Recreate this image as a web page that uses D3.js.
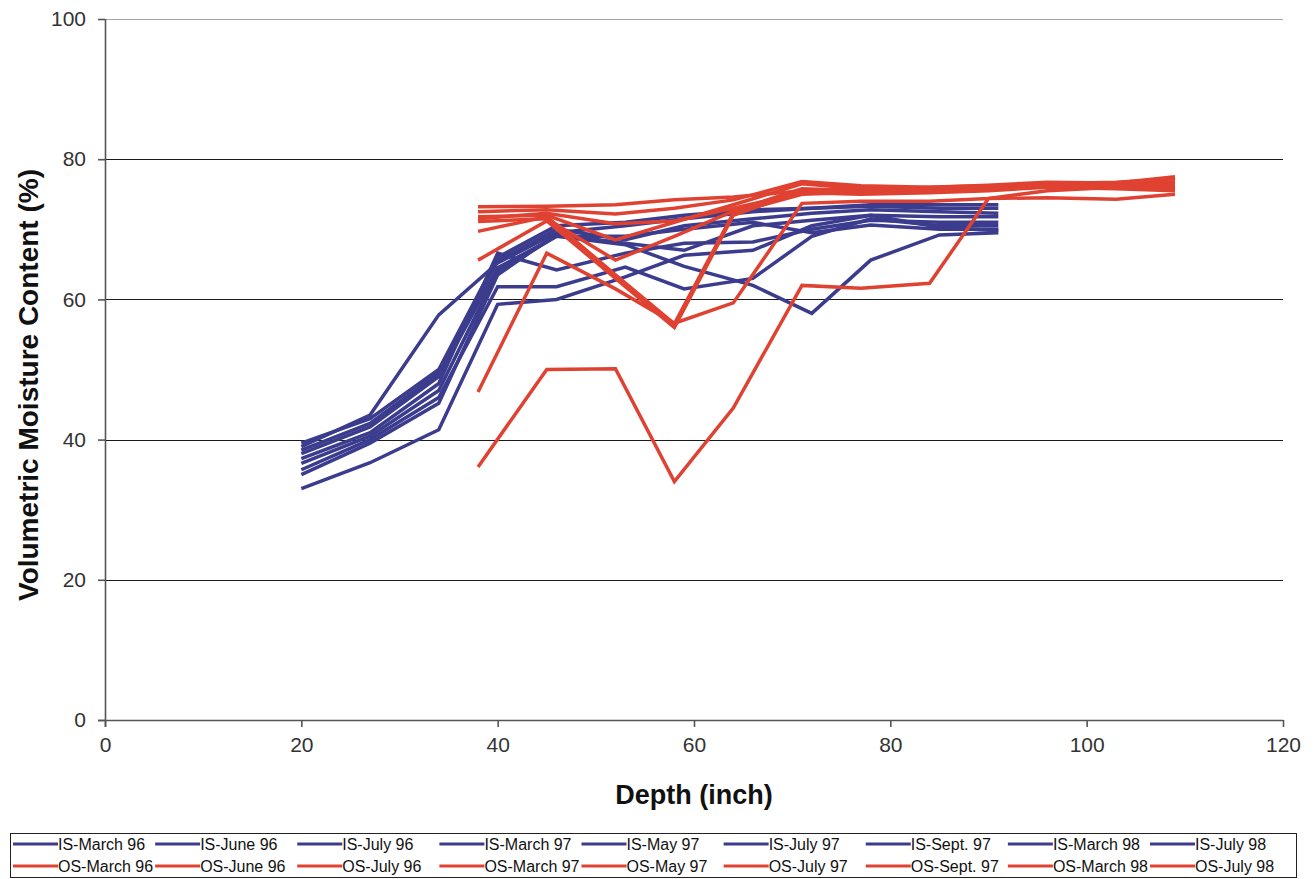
<!DOCTYPE html>
<html>
<head>
<meta charset="utf-8">
<script src="https://cdn.jsdelivr.net/npm/d3@7"></script>
<style>
  html, body { margin: 0; padding: 0; background: #fff; }
  svg { display: block; font-family: "Liberation Sans", Arial, sans-serif; }
</style>
</head>
<body>
<svg id="chart" width="1313" height="879"></svg>
<script>
// ---------------- DATA ----------------
const isDepth = [20, 27, 34, 40, 46, 53, 59, 66, 72, 78, 85, 91];
const osDepth = [38, 45, 52, 58, 64, 71, 77, 84, 90, 96, 103, 109];

const isLabels = ["IS-March 96", "IS-June 96", "IS-July 96", "IS-March 97", "IS-May 97",
                  "IS-July 97", "IS-Sept. 97", "IS-March 98", "IS-July 98"];
const osLabels = ["OS-March 96", "OS-June 96", "OS-July 96", "OS-March 97", "OS-May 97",
                  "OS-July 97", "OS-Sept. 97", "OS-March 98", "OS-July 98"];

const isMarch96 = [39.0, 43.5, 57.8, 65.2, 69.5, 70.5, 71.5, 72.5, 73.0, 73.5, 73.5, 73.5];
const isJune96  = [39.5, 43.0, 50.0, 66.0, 70.5, 71.0, 72.0, 72.8, 73.0, 73.3, 73.0, 73.0];
const isJuly96  = [38.5, 42.3, 49.5, 65.5, 70.0, 68.5, 70.5, 71.5, 72.3, 72.8, 72.5, 72.3];
const isMarch97 = [38.0, 41.8, 49.0, 64.5, 69.0, 67.8, 64.7, 62.0, 58.0, 65.6, 69.2, 69.5];
const isMay97   = [37.3, 41.0, 48.0, 66.6, 64.2, 66.6, 68.0, 68.2, 70.0, 71.3, 71.0, 71.0];
const isJuly97  = [36.6, 40.5, 47.0, 64.0, 69.0, 69.0, 70.0, 71.0, 69.5, 70.6, 70.0, 70.0];
const isSept97  = [35.7, 40.0, 46.0, 61.8, 61.8, 64.6, 61.5, 63.0, 69.0, 71.5, 70.5, 70.5];
const isMarch98 = [35.0, 39.5, 45.2, 63.5, 69.3, 68.0, 67.0, 70.5, 71.3, 72.0, 71.8, 71.8];
const isJuly98  = [33.0, 36.7, 41.4, 59.3, 60.0, 63.2, 66.3, 67.0, 70.5, 72.0, 70.3, 69.8];

const osMarch96 = [73.2, 73.3, 73.5, 74.2, 74.6, 75.5, 75.8, 76.0, 76.3, 76.7, 76.6, 77.5];
const osJune96  = [72.5, 72.8, 72.2, 73.0, 74.2, 76.8, 76.2, 76.0, 76.2, 76.5, 76.7, 77.2];
const osJuly96  = [71.8, 72.0, 68.5, 71.0, 73.5, 76.5, 75.8, 75.8, 76.0, 76.6, 76.4, 76.8];
const osMarch97 = [71.1, 71.5, 65.6, 69.0, 72.6, 75.8, 75.5, 75.6, 76.0, 76.3, 76.2, 76.2];
const osMay97   = [69.7, 71.8, 63.5, 56.5, 72.3, 75.0, 75.3, 75.5, 75.8, 76.2, 76.0, 75.8];
const osJuly97  = [65.6, 71.2, 63.0, 56.0, 72.0, 75.5, 75.5, 75.7, 76.0, 76.4, 76.2, 76.4];
const osSept97  = [46.8, 66.6, 61.5, 56.6, 59.5, 73.7, 74.0, 74.0, 74.4, 75.5, 76.0, 76.0];
const osMarch98 = [36.1, 50.0, 50.1, 34.0, 44.5, 62.0, 61.6, 62.3, 74.4, 74.5, 74.3, 75.0];
const osJuly98  = [71.5, 72.3, 70.8, 71.2, 73.0, 75.2, 75.0, 75.2, 75.5, 76.0, 75.8, 75.5];

const xTicks = [0, 20, 40, 60, 80, 100, 120];
const yTicks = [0, 20, 40, 60, 80, 100];

const xTitle = "Depth (inch)";
const yTitle = "Volumetric Moisture Content (%)";

// ---------------- BUILD ----------------
(function () {
const isValues = [isMarch96, isJune96, isJuly96, isMarch97, isMay97, isJuly97, isSept97, isMarch98, isJuly98];
const osValues = [osMarch96, osJune96, osJuly96, osMarch97, osMay97, osJuly97, osSept97, osMarch98, osJuly98];

const BLUE = "#3c3c8e";
const RED = "#e04232";

const isSeries = isLabels.map((name, i) => ({ name, color: BLUE,
  points: isDepth.map((d, j) => ({ x: d, y: isValues[i][j] })) }));
const osSeries = osLabels.map((name, i) => ({ name, color: RED,
  points: osDepth.map((d, j) => ({ x: d, y: osValues[i][j] })) }));

const svg = d3.select("#chart");
const pL = 105, pR = 1283, pT = 19, pB = 720;

const x = d3.scaleLinear().domain([0, 120]).range([pL, pR]);
const y = d3.scaleLinear().domain([0, 100]).range([pB, pT]);

// gridlines
svg.append("g")
  .selectAll("line")
  .data(yTicks.filter(t => t > 0))
  .join("line")
  .attr("x1", pL).attr("x2", pR)
  .attr("y1", d => Math.round(y(d)) + 0.5).attr("y2", d => Math.round(y(d)) + 0.5)
  .attr("stroke", d => d === 100 ? "#a6a6a6" : "#1a1a1a")
  .attr("stroke-width", 1.2);

// axes
const xAxis = d3.axisBottom(x).tickValues(xTicks).tickSize(7).tickPadding(10).tickFormat(d3.format("d"));
const yAxis = d3.axisLeft(y).tickValues(yTicks).tickSize(7).tickPadding(12).tickFormat(d3.format("d"));

const gx = svg.append("g").attr("transform", `translate(0,${pB})`).call(xAxis);
const gy = svg.append("g").attr("transform", `translate(${pL},0)`).call(yAxis);

[gx, gy].forEach(g => {
  g.select(".domain").attr("stroke", "#555").attr("stroke-width", 1.6);
  g.selectAll(".tick line").attr("stroke", "#555").attr("stroke-width", 1.6);
  g.selectAll(".tick text")
    .attr("fill", "#333")
    .style("font-size", "21px")
    .style("font-family", "'Liberation Sans', Arial, sans-serif");
});
gx.select(".domain").attr("d", `M${pL - 7},0.5H${pR}`);
gy.select(".domain").attr("d", `M0.5,${pT}V${pB + 7}`);

// series lines
const line = d3.line().x(d => x(d.x)).y(d => y(d.y));
const allSeries = isSeries.concat(osSeries);
svg.append("g")
  .selectAll("path")
  .data(allSeries)
  .join("path")
  .attr("d", d => line(d.points))
  .attr("fill", "none")
  .attr("stroke", d => d.color)
  .attr("stroke-width", 3.5)
  .attr("stroke-linejoin", "miter");

// axis titles
svg.append("text")
  .attr("x", (pL + pR) / 2)
  .attr("y", 804)
  .attr("text-anchor", "middle")
  .style("font-size", "27px")
  .style("font-weight", "bold")
  .attr("fill", "#111")
  .text(xTitle);

svg.append("text")
  .attr("transform", "translate(38,385) rotate(-90)")
  .attr("text-anchor", "middle")
  .style("font-size", "28px")
  .style("font-weight", "bold")
  .attr("fill", "#111")
  .text(yTitle);

// legend
const legend = svg.append("g");
legend.append("rect")
  .attr("x", 10.5).attr("y", 833.5)
  .attr("width", 1286).attr("height", 44)
  .attr("fill", "#fff").attr("stroke", "#222").attr("stroke-width", 1);

const colX = d3.scaleLinear().domain([0, 8]).range([13, 1150]);
const rowY = [844, 866];
[isSeries, osSeries].forEach((group, r) => {
  const items = legend.append("g").selectAll("g")
    .data(group)
    .join("g")
    .attr("transform", (d, i) => `translate(${colX(i)},${rowY[r]})`);
  items.append("line")
    .attr("x1", 0).attr("x2", 45).attr("y1", 0).attr("y2", 0)
    .attr("stroke", d => d.color).attr("stroke-width", 3);
  items.append("text")
    .attr("x", 45).attr("y", 0).attr("dy", "0.35em")
    .style("font-size", "16px")
    .attr("fill", "#111")
    .text(d => d.name);
});
})();
</script>
</body>
</html>
